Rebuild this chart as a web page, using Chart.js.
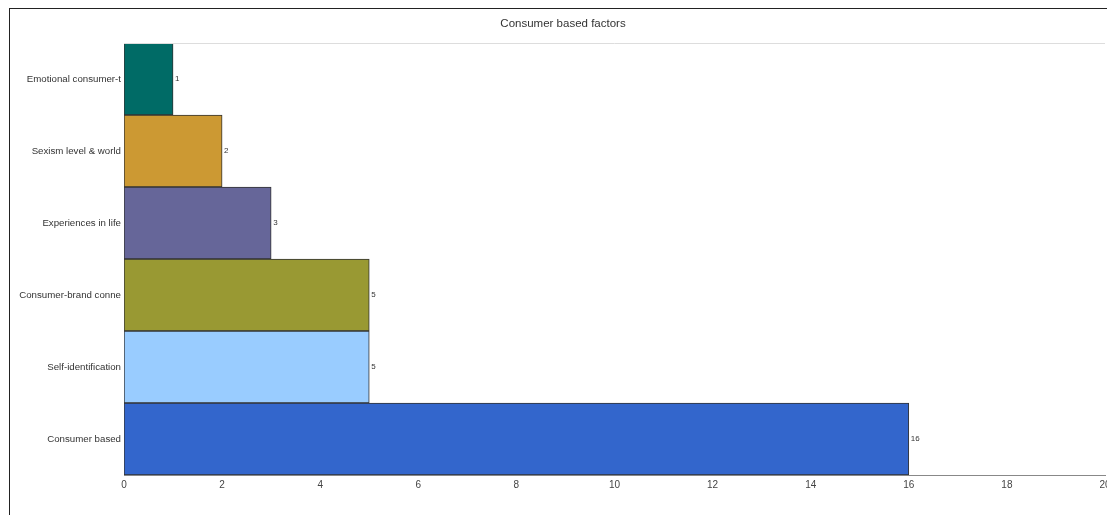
<!DOCTYPE html>
<html>
<head>
<meta charset="utf-8">
<script src="https://cdn.jsdelivr.net/npm/chart.js@4"></script>
<style>
  html, body { margin: 0; padding: 0; background: #fff; }
  #wrap { position: relative; width: 1107px; height: 515px; overflow: hidden; }
  #frame { position: absolute; left: 9px; top: 8px; right: 0; bottom: 0; border-top: 1px solid #222; border-left: 1px solid #222; pointer-events: none; }
  canvas { position: absolute; left: 0; top: 0; }
</style>
</head>
<body>
<div id="wrap">
  <canvas id="c" width="1107" height="515"></canvas>
  <div id="frame"></div>
</div>
<script>
const chartTitle = "Consumer based factors";
const categories = [
  "Emotional consumer-t",
  "Sexism level & world",
  "Experiences in life",
  "Consumer-brand conne",
  "Self-identification",
  "Consumer based"
];
const values = [1, 2, 3, 5, 5, 16];
const barColors = ["#006b66", "#cc9933", "#666699", "#999933", "#99ccff", "#3366cc"];
const xTicks = [0, 2, 4, 6, 8, 10, 12, 14, 16, 18, 20];

const FONT = "'Liberation Sans', Arial, sans-serif";

const extras = {
  id: "extras",
  afterDatasetsDraw(chart) {
    const ctx = chart.ctx;
    const area = chart.chartArea;
    ctx.save();
    // title
    ctx.fillStyle = "#333";
    ctx.font = "11.5px " + FONT;
    ctx.textAlign = "center";
    ctx.textBaseline = "middle";
    ctx.fillText(chartTitle, 563, 24);
    // top border of plot area
    ctx.strokeStyle = "#dddddd";
    ctx.lineWidth = 1;
    ctx.beginPath();
    ctx.moveTo(area.left, area.top + 0.5);
    ctx.lineTo(area.right, area.top + 0.5);
    ctx.stroke();
    // value labels
    const meta = chart.getDatasetMeta(0);
    ctx.fillStyle = "#333";
    ctx.font = "8px " + FONT;
    ctx.textAlign = "left";
    ctx.textBaseline = "middle";
    meta.data.forEach((bar, i) => {
      ctx.fillText(String(values[i]), bar.x + 2, bar.y);
    });
    ctx.restore();
  }
};

new Chart(document.getElementById("c"), {
  type: "bar",
  data: {
    labels: categories,
    datasets: [{
      data: values,
      backgroundColor: barColors,
      borderColor: "#333333",
      borderWidth: 1,
      borderSkipped: false,
      barPercentage: 1,
      categoryPercentage: 1
    }]
  },
  options: {
    indexAxis: "y",
    responsive: false,
    animation: false,
    devicePixelRatio: 1,
    layout: { padding: { left: 0, right: 2, top: 43, bottom: 0 } },
    plugins: {
      legend: { display: false },
      tooltip: { enabled: false },
      title: { display: false }
    },
    scales: {
      x: {
        min: 0,
        max: 20,
        afterBuildTicks(scale) { scale.ticks = xTicks.map(v => ({ value: v })); },
        afterFit(scale) { scale.height = 40; scale.paddingRight = 0; scale.paddingLeft = 0; },
        grid: { display: false, drawTicks: false },
        border: { display: true, color: "#888", width: 1 },
        ticks: { color: "#444", font: { family: FONT, size: 10 }, padding: 4, maxRotation: 0, autoSkip: false }
      },
      y: {
        afterFit(scale) { scale.width = 124; scale.paddingTop = 0; scale.paddingBottom = 0; },
        grid: { display: false, drawTicks: false },
        border: { display: false },
        ticks: { color: "#333", font: { family: FONT, size: 9.7 }, padding: 3, autoSkip: false }
      }
    }
  },
  plugins: [extras]
});
</script>
</body>
</html>
